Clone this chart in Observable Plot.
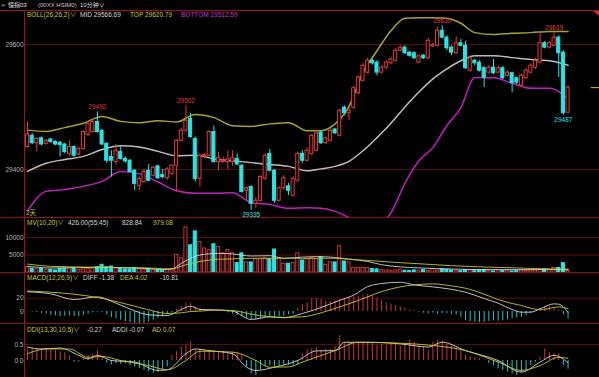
<!DOCTYPE html>
<html><head><meta charset="utf-8">
<script src="https://cdn.jsdelivr.net/npm/d3@7"></script>
<script src="https://cdn.jsdelivr.net/npm/@observablehq/plot@0.6"></script>
<style>
html,body{margin:0;padding:0;background:#000;}
#root{position:relative;width:599px;height:377px;overflow:hidden;background:#000;}
.t{position:absolute;white-space:nowrap;line-height:1;transform:translateY(-50%);font-family:'Liberation Sans',Arial,'Noto Sans CJK SC',sans-serif;font-size:6.5px;}
.h{font-size:6px;}
.ln{position:absolute;background:#8c1414;}
</style></head>
<body><div id="root"></div>
<script>
// ---------- DATA ----------
const candleOpen  = [29436,29454,29442,29450,29441,29448,29444,29443,29440,29425,29436,29424,29433,29455,29460,29476,29462,29441,29420,29412,29428,29417,29414,29398,29374,29380,29398,29390,29405,29391,29386,29393,29406,29446,29462,29481,29449,29385,29421,29422,29460,29412,29412,29412,29412,29417,29406,29366,29372,29345,29350,29385,29425,29398,29350,29370,29373,29358,29382,29425,29414,29425,29430,29459,29442,29446,29464,29454,29499,29490,29499,29522,29542,29555,29574,29571,29555,29563,29570,29574,29590,29595,29587,29586,29571,29582,29578,29597,29598,29622,29611,29595,29586,29602,29598,29558,29574,29571,29562,29555,29563,29555,29562,29550,29554,29546,29534,29546,29555,29563,29571,29602,29595,29598,29611,29587,29491];
const candleHigh  = [29476,29458,29451,29452,29448,29450,29446,29445,29442,29446,29438,29436,29462,29476,29480,29492,29464,29443,29430,29440,29436,29420,29416,29400,29388,29400,29408,29405,29407,29400,29403,29408,29448,29466,29502,29490,29452,29425,29426,29462,29470,29428,29420,29430,29430,29425,29408,29372,29374,29355,29390,29425,29432,29400,29372,29390,29378,29388,29428,29430,29435,29456,29462,29462,29452,29465,29466,29497,29502,29500,29533,29550,29570,29578,29577,29574,29566,29574,29579,29593,29598,29598,29589,29588,29583,29584,29610,29602,29628,29630,29614,29598,29612,29608,29605,29582,29576,29574,29565,29566,29576,29565,29565,29558,29556,29548,29553,29562,29569,29578,29618,29605,29605,29619,29614,29590,29534];
const candleLow   = [29434,29440,29428,29438,29439,29442,29438,29420,29425,29422,29420,29422,29431,29453,29458,29458,29438,29410,29388,29408,29415,29410,29394,29366,29366,29378,29380,29388,29384,29385,29383,29390,29364,29444,29460,29450,29380,29372,29418,29420,29410,29398,29410,29400,29405,29406,29362,29350,29335,29338,29348,29383,29396,29346,29348,29366,29358,29356,29380,29410,29412,29422,29428,29440,29440,29444,29456,29452,29486,29478,29496,29520,29540,29553,29567,29550,29553,29560,29568,29572,29588,29584,29580,29576,29569,29576,29576,29595,29596,29609,29590,29582,29584,29596,29560,29556,29566,29556,29531,29553,29552,29553,29544,29548,29523,29536,29532,29544,29553,29560,29569,29593,29593,29596,29547,29487,29489];
const candleClose = [29456,29442,29449,29440,29446,29444,29440,29439,29428,29436,29422,29433,29460,29473,29476,29460,29440,29414,29414,29430,29417,29413,29396,29377,29385,29396,29382,29403,29386,29388,29400,29406,29446,29462,29478,29452,29385,29422,29423,29460,29412,29418,29414,29416,29418,29408,29364,29370,29345,29350,29388,29422,29398,29350,29370,29386,29366,29385,29425,29414,29430,29454,29458,29442,29450,29462,29458,29494,29490,29494,29530,29547,29566,29574,29570,29555,29563,29571,29576,29590,29595,29586,29582,29578,29581,29578,29606,29599,29622,29611,29594,29587,29602,29598,29562,29578,29570,29558,29547,29563,29554,29562,29546,29555,29538,29539,29550,29558,29566,29574,29602,29595,29602,29611,29586,29490,29531];

const bollIdx = [0,4,8,12,16,20,24,28,32,36,40,44,48,52,56,60,63,66,69,72,75,78,81,84,87,90,93,96,100,104,108,112,116];
const bollTop = [29463,29461,29467,29474,29485,29477,29475,29478,29476,29488,29483,29470,29469,29473,29475,29462,29462,29473,29501,29555,29590,29622,29642,29643,29643,29642,29634,29619,29616,29618,29619,29621,29620.79];
const bollMid = [29397,29410,29416,29421,29432,29438,29436,29429,29422,29423,29417,29414,29411,29408,29405,29398,29401,29405,29413,29430,29451,29474,29500,29524,29545,29561,29574,29582,29582,29579,29576,29574,29566.69];
const bollBot = [29334,29365,29368,29373,29381,29397,29393,29380,29366,29362,29362,29363,29347,29344,29338,29339,29338,29333,29323,29310,29310,29331,29378,29414,29435,29470,29499,29547,29547,29538,29530,29530,29512.59];

const hiLabelIdx = [15,34,89,113];
const loLabelIdx = [48,115];

const volume = [1500,1100,900,1000,700,800,600,1000,1100,900,1200,700,900,1000,1100,1500,2200,1500,1700,1100,1000,900,900,1300,900,800,1000,700,600,500,800,900,
 5000,4070,12870,7780,11750,8700,6860,6390,8060,7310,5460,6390,5460,2690,5460,2870,2870,3800,3800,4070,3800,6570,4070,2500,2500,2690,5460,3430,3800,4070,3800,4350,2220,2870,2870,7500,3150,2870,1300,1300,1300,1300,
 1000,900,700,600,500,600,800,500,400,600,500,700,400,1000,500,900,800,600,500,400,700,600,400,500,700,400,300,600,400,500,300,400,600,400,500,600,700,900,800,1300,1300,2690,426];
const mvIdx = [0,5,16,26,29,31,33,35,37,41,44,48,52,55,59,62,66,69,73,76,84,91,98,105,112,116];
const mvMa10 = [1760,1300,1480,1110,830,1000,2590,4070,5000,5460,5300,4720,4800,4070,4400,4540,4300,3800,3150,2220,1300,1000,830,830,830,828.84];
const mvMa20 = [2410,1760,1480,1300,1100,1000,1800,2600,3150,3800,3900,4070,4070,4070,4070,4070,4070,3800,3450,3150,2500,1940,1570,1300,1020,979.08];

const macdHist = [-0.5,-1,-1.5,-3,-4,-6,-6.5,-7.5,-7,-6.5,-7,-7.5,-6,-4,-2,-1,-2,-5,-9,-11,-13,-15,-17,-18.5,-19,-18,-16,-13,-10,-8,-5,-2,3,8,13,12,7,4,3,2.5,1.5,1,0.5,-2,-4,-6,-8,-10,-12,-12.5,-11,-9,-8.5,-9,-8,-6.5,-5,-4,5,10,13,19,19.5,18,16,14.5,16,18,19.5,21,22,23,24.5,26,23,19.5,16,13,10.5,9,7,5,2.5,1,-1,-2.5,-3.5,-2.5,-4,-3,-3,-4,-5,-8.5,-13.5,-15,-16,-16.5,-16.5,-15,-14,-14.5,-14,-12.5,-11,-10,-8.5,-6,-3,0.5,4,6.5,7,5,2,-5,-10.81];
const macdIdx = [0,5,10,15,19,23,26,30,33,35,37,40,44,48,52,55,59,63,67,70,73,76,80,83,87,91,94,98,101,104,106,108,110,113,114,116];
const macdDiff = [29.7,26.5,18,22,12.5,1,-5,-6,3,8,3,2.5,0.5,-12,-8,-9.5,-3,6,16.9,24.6,37.4,42,44,40,37,33.3,29,19.5,12.5,3,-1,-1,4.1,11.5,11,-1.38];
const macdDea  = [30.8,29,26,21,15,8,2.5,-3,-2,0,0.5,2.2,1.5,-4,-8,-8.7,-8,-2,7,14,22,30,37,40,41.5,38.5,35,26,18,12,9,5,2.6,6,7,4.02];

const ddiHist = [0.33,0.36,0.36,0.36,0.35,0.34,0.32,0.28,0.24,0.15,-0.05,-0.04,0.08,0.16,0.2,0.31,0.12,-0.08,-0.14,-0.1,-0.12,-0.1,-0.15,-0.2,-0.25,-0.3,-0.35,-0.4,-0.38,-0.3,-0.2,0.16,0.28,0.42,0.48,0.6,0.32,0.35,0.33,0.32,0.3,0.3,0.29,0.28,0.27,0.26,0.2,-0.2,-0.42,-0.47,-0.3,-0.2,-0.16,-0.21,-0.18,-0.16,-0.15,-0.16,-0.14,
 0.2,0.33,0.38,0.4,0.32,0.36,0.34,0.44,0.78,0.57,0.57,0.57,0.56,0.57,0.56,0.54,0.47,0.5,0.47,0.5,0.5,0.44,0.5,0.63,0.57,0.47,0.42,0.31,0.57,0.63,0.63,0.5,0.45,0.42,0.31,0.16,0.12,0.08,0.05,0.02,-0.1,-0.16,-0.26,-0.31,-0.36,-0.42,-0.47,-0.38,-0.31,-0.16,-0.05,0.1,0.36,0.26,0.21,0.21,-0.16,-0.27];
const addiIdx = [0,3,7,11,13,15,18,23,28,30,34,36,39,44,47,49,53,58,62,66,68,73,80,86,89,94,101,106,110,113,116];
const addiVal = [0.42,0.36,0.39,0.16,0.05,0.16,0,-0.05,-0.31,-0.29,0.21,0.36,0.31,0.21,-0.21,-0.31,-0.21,0.0,0.3,0.31,0.57,0.57,0.52,0.42,0.57,0.31,0,-0.36,-0.05,0.16,-0.07];
const adIdx = [0,4,9,13,16,20,26,30,34,37,44,49,52,56,59,66,71,80,87,94,101,106,110,114,116];
const adVal = [0.21,0.36,0.36,0.1,0.125,0,-0.16,-0.29,0,0.29,0.26,0,-0.21,-0.2,-0.05,0.31,0.57,0.54,0.47,0.31,-0.05,-0.31,-0.16,0.1,0.07];

const priceTicks = [29600,29400];
const volTicks = [10000,5000];
const macdTicks = [20,0];
const ddiTicks = [0.5,0.0];

// ---------- STYLE ----------
const FONT = "'Liberation Sans', Arial, 'Noto Sans CJK SC', sans-serif";
const RED = "#e03c3c", CYAN = "#2ee2e2", RED2 = "#c83838", CYAN2 = "#27c4c4";
const WHITE = "#d4d4d4", YEL = "#c8c828", OLIVE = "#a4a42c", MAG = "#c020c0";
const GRID = "#5a0c0c", AXIS = "#b8b8b8";
const X0 = -0.43, X1 = 122.75;
const root = document.getElementById("root");

const candles = candleOpen.map((o, i) => ({i, o, h: candleHigh[i], l: candleLow[i], c: candleClose[i], up: candleClose[i] >= o, v: volume[i], m: macdHist[i], d: ddiHist[i]}));
const boll = bollIdx.map((i, k) => ({i, top: bollTop[k], mid: bollMid[k], bot: bollBot[k]}));
const mv = mvIdx.map((i, k) => ({i, a: mvMa10[k], b: mvMa20[k]}));
const macdL = macdIdx.map((i, k) => ({i, diff: macdDiff[k], dea: macdDea[k]}));
const addi = addiIdx.map((i, k) => ({i, v: addiVal[k]}));
const ad = adIdx.map((i, k) => ({i, v: adVal[k]}));
const hiLab = hiLabelIdx.map(i => ({i, p: candleHigh[i]}));
const loLab = loLabelIdx.map(i => ({i, p: candleLow[i]}));

function tickText(ticks, fmt) {
  return Plot.text(ticks, {y: d => d, text: fmt, frameAnchor: "left", textAnchor: "end", dx: -2, fill: AXIS, fontSize: 6.5, fontFamily: FONT});
}

function panel(top, height, yDomain, marks) {
  const svg = Plot.plot({
    width: 599, height, marginTop: 0, marginBottom: 0, marginLeft: 25, marginRight: 0,
    style: {background: "transparent", fontFamily: FONT, overflow: "visible"},
    x: {type: "linear", domain: [X0, X1], axis: null},
    y: {type: "linear", domain: yDomain, axis: null},
    color: {type: "identity"},
    marks
  });
  svg.style.position = "absolute";
  svg.style.left = "0px";
  svg.style.top = top + "px";
  root.appendChild(svg);
}

// main price panel: y 10..218
panel(10, 208, [29321.6, 29654.4], [
  Plot.ruleY(priceTicks, {stroke: GRID}),
  tickText(priceTicks, d => String(d)),
  Plot.line(boll, {x: "i", y: "top", stroke: OLIVE, curve: "monotone-x", clip: true}),
  Plot.line(boll, {x: "i", y: "mid", stroke: "#bdbdbd", curve: "monotone-x", clip: true}),
  Plot.line(boll, {x: "i", y: "bot", stroke: MAG, curve: "monotone-x", clip: true}),
  Plot.ruleX(candles, {x: "i", y1: "l", y2: "h", stroke: d => d.up ? RED : CYAN}),
  Plot.rect(candles, {x1: d => d.i - 0.33, x2: d => d.i + 0.33, y1: "o", y2: "c", fill: d => d.up ? "#000" : CYAN, stroke: d => d.up ? RED : CYAN}),
  Plot.text(hiLab, {x: "i", y: "p", text: d => String(d.p), dy: -5, fill: RED, fontSize: 6.5, fontFamily: FONT}),
  Plot.text(loLab, {x: "i", y: "p", text: d => String(d.p), dy: 5, fill: CYAN, fontSize: 6.5, fontFamily: FONT}),
  Plot.ruleY([candleClose[candleClose.length - 1]], {x1: 121, x2: X1, stroke: YEL})
]);

// volume panel: y 218..272
panel(218, 54, [0, 15430], [
  Plot.ruleY(volTicks, {stroke: GRID}),
  tickText(volTicks, d => String(d)),
  Plot.rect(candles, {x1: d => d.i - 0.33, x2: d => d.i + 0.33, y1: 0, y2: "v", fill: d => d.up ? "#000" : CYAN, stroke: d => d.up ? RED2 : CYAN}),
  Plot.line(mv, {x: "i", y: "a", stroke: WHITE, curve: "monotone-x", strokeWidth: 0.9}),
  Plot.line(mv, {x: "i", y: "b", stroke: YEL, curve: "monotone-x", strokeWidth: 0.9})
]);

// MACD panel: y 273..323
panel(273, 50, [-18.05, 57.14], [
  Plot.ruleY([macdTicks[0]], {stroke: GRID}),
  tickText(macdTicks, d => String(d)),
  Plot.ruleX(candles, {x: "i", y1: 0, y2: "m", stroke: d => d.m >= 0 ? RED2 : CYAN2, clip: true}),
  Plot.line(macdL, {x: "i", y: "diff", stroke: WHITE, curve: "monotone-x", strokeWidth: 0.9}),
  Plot.line(macdL, {x: "i", y: "dea", stroke: YEL, curve: "monotone-x", strokeWidth: 0.9})
]);

// DDI panel: y 323..377
panel(323, 54, [-0.531, 1.156], [
  Plot.ruleY([ddiTicks[0]], {stroke: GRID}),
  tickText(ddiTicks, d => d.toFixed(1)),
  Plot.ruleX(candles, {x: "i", y1: 0, y2: "d", stroke: d => d.d >= 0 ? RED2 : CYAN2, clip: true}),
  Plot.line(addi, {x: "i", y: "v", stroke: WHITE, curve: "monotone-x", strokeWidth: 0.9}),
  Plot.line(ad, {x: "i", y: "v", stroke: YEL, curve: "monotone-x", strokeWidth: 0.9})
]);

// separators and frame
function line(l, t, w, h, c) {
  const d = document.createElement("div"); d.className = "ln";
  d.style.left = l + "px"; d.style.top = t + "px"; d.style.width = w + "px"; d.style.height = h + "px";
  if (c) d.style.background = c;
  root.appendChild(d);
}
line(0, 10, 599, 1, "#9a1818");
line(0, 217, 599, 1);
line(0, 272, 599, 1);
line(0, 323, 599, 1);
line(24, 10, 1, 367, "#9a1818");
const tri = document.createElement("div");
tri.style.cssText = "position:absolute;left:593px;top:11px;width:0;height:0;border-left:6px solid transparent;border-top:5px solid #e02020;";
root.appendChild(tri);

// text labels
const fmt2 = v => v.toFixed(2);
const last = a => a[a.length - 1];
const labels = [
  [1, 5, "∞", "#c0c0c0", true],
  [8, 5, "恒指03", "#e0e0e0", true],
  [38, 5, "(00XX HSIM0)", "#c8c8c8", true],
  [80, 5, "10分钟∨", "#d8d8d8", true],
  [27, 14.5, "BOLL(26,26,2)∨", YEL],
  [80, 14.5, "MID " + fmt2(last(bollMid)), WHITE],
  [130, 14.5, "TOP " + fmt2(last(bollTop)), YEL],
  [181, 14.5, "BOTTOM " + fmt2(last(bollBot)), "#d030d0"],
  [26, 212.5, "2天", YEL],
  [27, 222.5, "MV(10,20)∨", YEL],
  [68, 222.5, fmt2(last(volume)) + "(55:45)", WHITE],
  [122, 222.5, fmt2(last(mvMa10)), WHITE],
  [153, 222.5, fmt2(last(mvMa20)), YEL],
  [27, 277.5, "MACD(12,26,9)∨", YEL],
  [83, 277.5, "DIFF " + fmt2(last(macdDiff)), WHITE],
  [120, 277.5, "DEA " + fmt2(last(macdDea)), YEL],
  [160, 277.5, fmt2(last(macdHist)), WHITE],
  [27, 329.5, "DDI(13,30,10,5)∨", YEL],
  [87, 329.5, fmt2(last(ddiHist)), WHITE],
  [112, 329.5, "ADDI " + fmt2(last(addiVal)), WHITE],
  [152, 329.5, "AD " + fmt2(last(adVal)), YEL]
];
for (const [x, y, s, c, hdr] of labels) {
  const d = document.createElement("div"); d.className = hdr ? "t h" : "t";
  d.style.left = x + "px"; d.style.top = y + "px"; d.style.color = c; d.textContent = s;
  root.appendChild(d);
}
</script></body></html>
